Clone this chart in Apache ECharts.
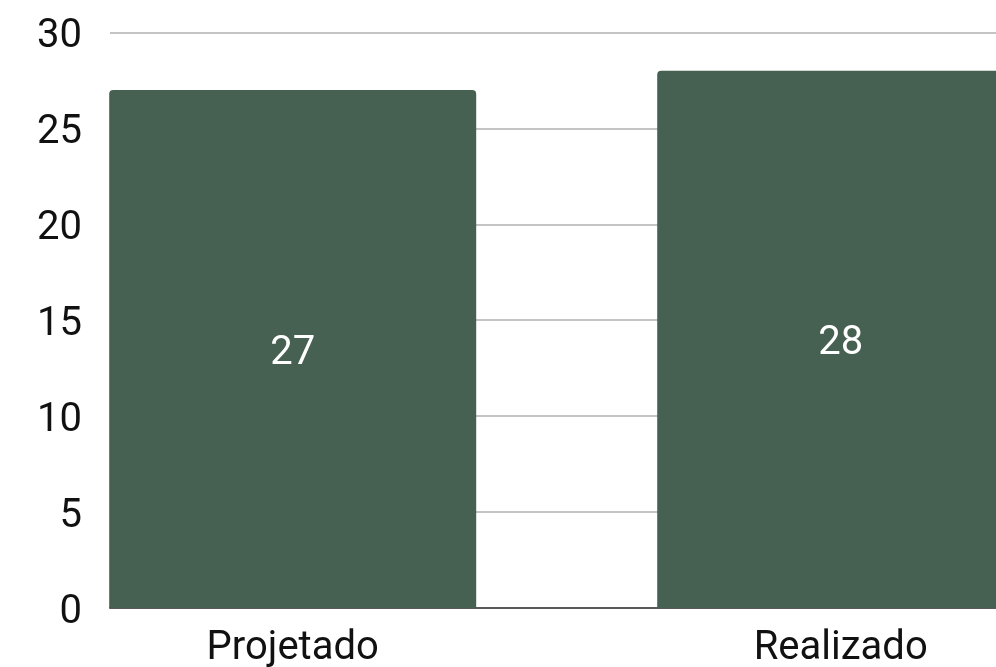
<!DOCTYPE html>
<html>
<head>
<meta charset="utf-8">
<script src="https://cdn.jsdelivr.net/npm/echarts@6/dist/echarts.min.js"></script>
<style>
html,body{margin:0;padding:0;background:#fff;}
#chart{width:996px;height:667px;}
</style>
</head>
<body>
<div id="chart"></div>
<script>
var categories = ['Projetado', 'Realizado'];
var values = [27, 28];
var yTicks = [0, 30, 5]; // min, max, interval

var myChart = echarts.init(document.getElementById('chart'));
var font = 'Roboto';
var option = {
	animation: false,
	grid: [
		// grid for gridlines + y labels
		{ left: 110, right: 0, top: 32.4, bottom: 59, outerBoundsMode: 'none' },
		// grid for bars (band wider than the window, right bar gets cut)
		{ left: 18.7, right: -118.7, top: 32.4, bottom: 59, outerBoundsMode: 'none' }
	],
	xAxis: [
		{
			gridIndex: 0, type: 'value', min: 0, max: 1,
			axisLine: { show: true, lineStyle: { color: '#5a5a5a', width: 2 } },
			axisTick: { show: false }, axisLabel: { show: false }, splitLine: { show: false }
		},
		{
			gridIndex: 1, type: 'category', data: categories,
			axisLine: { show: false }, axisTick: { show: false },
			axisLabel: { color: '#111', fontFamily: font, fontSize: 40, margin: 21 }
		}
	],
	yAxis: [
		{
			gridIndex: 0, type: 'value', min: yTicks[0], max: yTicks[1], interval: yTicks[2],
			axisLine: { show: false }, axisTick: { show: false },
			axisLabel: { color: '#111', fontFamily: font, fontSize: 40, margin: 28, verticalAlign: 'top', lineHeight: 10 },
			splitLine: { lineStyle: { color: '#c4c4c4', width: 2 } }
		},
		{
			gridIndex: 1, type: 'value', min: yTicks[0], max: yTicks[1], interval: yTicks[2],
			show: false, splitLine: { show: false }
		}
	],
	series: [{
		type: 'bar',
		xAxisIndex: 1,
		yAxisIndex: 1,
		data: values,
		barWidth: 367,
		itemStyle: { color: '#466151', borderRadius: [4, 4, 0, 0] },
		label: {
			show: true, position: 'inside', color: '#fff', offset: [0, 5],
			fontFamily: font, fontSize: 40
		}
	}]
};
myChart.setOption(option);
</script>
</body>
</html>
